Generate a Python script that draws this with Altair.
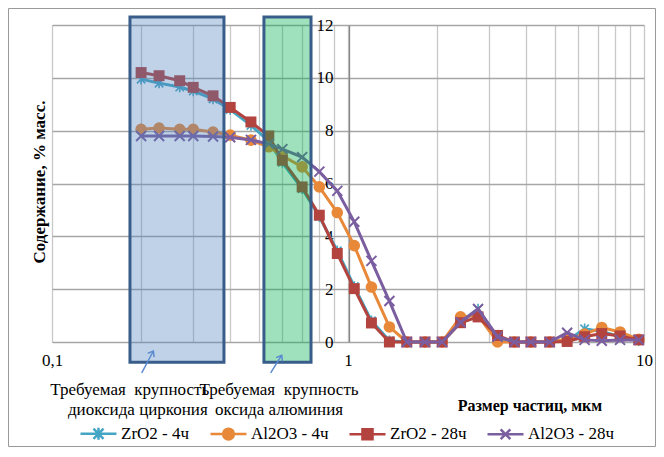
import altair as alt
import pandas as pd

FONT = "Liberation Serif"

# ---- data ----
sizes = [0.2, 0.23, 0.27, 0.3, 0.35, 0.4, 0.47, 0.54, 0.6, 0.7, 0.8, 0.92, 1.05, 1.2, 1.38,
         1.58, 1.82, 2.08, 2.4, 2.75, 3.2, 3.65, 4.15, 4.8, 5.5, 6.3, 7.2, 8.3, 9.6]
zro2_4h = [9.95, 9.8, 9.65, 9.5, 9.2, 8.8, 8.2, 7.6, 6.8, 5.8, 4.75, 3.45, 2.1, 0.8, 0.05,
           0, 0, 0, 0.75, 1.25, 0.15, 0, 0, 0, 0.05, 0.5, 0.4, 0.2, 0.05]
al2o3_4h = [8.05, 8.1, 8.05, 8.05, 7.95, 7.83, 7.64, 7.39, 7.05, 6.63, 5.87, 4.9, 3.65, 2.08, 0.57,
            0, 0, 0, 0.95, 1.0, 0, 0, 0, 0, 0.1, 0.3, 0.55, 0.38, 0.1]
zro2_28h = [10.2, 10.08, 9.89, 9.64, 9.32, 8.88, 8.33, 7.8, 6.88, 5.87, 4.8, 3.35, 2.02, 0.72, 0,
            0, 0, 0, 0.73, 0.95, 0.25, 0, 0, 0, 0.02, 0.2, 0.32, 0.23, 0.08]
al2o3_28h = [7.8, 7.8, 7.8, 7.8, 7.78, 7.75, 7.65, 7.5, 7.3, 7.0, 6.45, 5.72, 4.55, 3.07, 1.55,
             0, 0, 0, 0.75, 1.25, 0.2, 0, 0, 0, 0.35, 0.08, 0.05, 0.08, 0.08]
series_names = ["ZrO2 - 4ч", "Al2O3 - 4ч", "ZrO2 - 28ч", "Al2O3 - 28ч"]

x_ticks = [0.1, 0.2, 0.3, 0.4, 0.5, 0.6, 0.7, 0.8, 0.9, 1, 2, 3, 4, 5, 6, 7, 8, 9, 10]
y_ticks = [0, 2, 4, 6, 8, 10, 12]

# highlighted ranges (x from, x to, y from, y to)
box_zr = [0.1834, 0.381, -0.77, 12.3]
box_al = [0.52, 0.75, -0.77, 12.3]
# annotation texts
NB = "\u00a0\u00a0"
ann_text = ["Требуемая" + NB + "крупность", "диоксида циркония", "Требуемая" + NB + "крупность", "оксида алюминия"]
ann_x = [0.183, 0.195, 0.585, 0.585]
ann_y = [-1.83, -2.59, -1.83, -2.59]
# arrows (tail x, tail y, tip x, tip y)
arrow_x = [0.201, 0.548]
arrow_y = [-1.17, -1.17]
arrow_x2 = [0.220, 0.597]
arrow_y2 = [-0.34, -0.50]

rows = []
for name, vals in zip(series_names, [zro2_4h, al2o3_4h, zro2_28h, al2o3_28h]):
    for s, v in zip(sizes, vals):
        rows.append({"size": s, "value": v, "series": name})
df = pd.DataFrame(rows)

colors = ["#45A5C4", "#E8893A", "#B3433E", "#7A5EA0"]

xs = alt.Scale(type="log", domain=[0.1, 10], nice=False)
ys = alt.Scale(domain=[0, 12], nice=False, zero=False)
x_axis = alt.Axis(values=x_ticks, title=None, grid=True, gridColor="#C8C8C8", gridWidth=1.3,
                  ticks=False, domain=False, labelPadding=10, labelFont=FONT, labelFontSize=17,
                  labelColor="black", labelOverlap=False, labelFlush=False,
                  labelExpr="datum.value == 0.1 ? '0,1' : ((datum.value == 1 || datum.value == 10) ? datum.label : '')")
y_axis = alt.Axis(values=y_ticks, title=None, grid=True, gridColor="#A6A6A6", gridWidth=1.3,
                  ticks=False, domain=True, domainColor="#868686", domainWidth=1.3, offset=-297,
                  labelPadding=16, labelFont=FONT, labelFontSize=17, labelColor="black")


def X(field):
    return alt.X(f"{field}:Q", scale=xs, axis=x_axis)


def Y(field):
    return alt.Y(f"{field}:Q", scale=ys, axis=y_axis)


marker_defs = [
    dict(shape="M-0.8,-0.8L0.8,0.8M0.8,-0.8L-0.8,0.8M0,-1L0,1", filled=False, size=110, strokeWidth=1.6),
    dict(shape="circle", filled=True, size=135),
    dict(shape="square", filled=True, size=120),
    dict(shape="M-1,-1L1,1M1,-1L-1,1", filled=False, size=100, strokeWidth=2),
]

layers = []
for name, col, md in zip(series_names, colors, marker_defs):
    base = alt.Chart(df).transform_filter(alt.datum.series == name)
    layers.append(base.mark_line(color=col, strokeWidth=3).encode(x=X("size"), y=Y("value")))
    layers.append(base.mark_point(color=col, opacity=1, **md).encode(x=X("size"), y=Y("value")))

# legend built from an invisible layer
legend_paths = [
    "M-1,0L1,0M-0.28,-0.28L0.28,0.28M0.28,-0.28L-0.28,0.28M0,-0.33L0,0.33",
    "M-1,0L1,0M-0.3,0A0.3,0.3,0,1,0,0.3,0A0.3,0.3,0,1,0,-0.3,0Z",
    "M-1,0L1,0M-0.28,-0.28L0.28,-0.28L0.28,0.28L-0.28,0.28Z",
    "M-1,0L1,0M-0.27,-0.27L0.27,0.27M0.27,-0.27L-0.27,0.27",
]
leg = alt.Legend(title=None, orient="none", legendX=27, legendY=389, direction="horizontal",
                 symbolSize=1296, symbolStrokeWidth=2.5, symbolOpacity=1, labelFont=FONT,
                 labelFontSize=17, labelColor="black", labelOffset=3, columnPadding=15)
layers.append(
    alt.Chart(df).mark_point(opacity=0).encode(
        x=X("size"), y=Y("value"),
        shape=alt.Shape("series:N", scale=alt.Scale(domain=series_names, range=legend_paths), legend=leg),
        fill=alt.Fill("series:N", scale=alt.Scale(domain=series_names, range=colors), legend=leg),
        stroke=alt.Stroke("series:N", scale=alt.Scale(domain=series_names, range=colors), legend=leg),
        opacity=alt.value(0),
    )
)

# highlighted boxes
for bx, fillc, op in [(box_zr, "#4F81BD", 0.36), (box_al, "#00B050", 0.38)]:
    bdf = pd.DataFrame({"x": [bx[0]], "x2": [bx[1]], "y": [bx[2]], "y2": [bx[3]]})
    layers.append(alt.Chart(bdf).mark_rect(fill=fillc, fillOpacity=op, stroke="#385D8A", strokeWidth=3).encode(
        x=X("x"), x2="x2", y=Y("y"), y2="y2"))

# arrows
adf = pd.DataFrame({"x": arrow_x, "y": arrow_y, "x2": arrow_x2, "y2": arrow_y2})
layers.append(alt.Chart(adf).mark_rule(color="#5A8AD0", strokeWidth=1.5).encode(
    x=X("x"), y=Y("y"), x2="x2", y2="y2"))
layers.append(alt.Chart(adf).mark_point(shape="M-0.6,0.8L0,0L0.6,0.8", filled=False, color="#5A8AD0",
                                        strokeWidth=1.5, size=150, angle=30, opacity=1).encode(
    x=X("x2"), y=Y("y2")))

# annotation texts
tdf = pd.DataFrame({"x": ann_x, "y": ann_y, "t": ann_text})
layers.append(alt.Chart(tdf).mark_text(font=FONT, fontSize=17, color="black", baseline="middle",
                                       align="center").encode(x=X("x"), y=Y("y"), text="t:N"))

# axis titles
layers.append(alt.Chart(pd.DataFrame({"t": ["Содержание, % масс."]})).mark_text(
    font=FONT, fontSize=17, fontWeight="bold", color="black", angle=270, baseline="middle",
    align="center").encode(x=alt.value(-12), y=alt.value(157), text="t:N"))
layers.append(alt.Chart(pd.DataFrame({"t": ["Размер частиц, мкм"]})).mark_text(
    font=FONT, fontSize=16, fontWeight="bold", color="black", baseline="middle",
    align="center").encode(x=alt.value(478), y=alt.value(381), text="t:N"))

# outer frame
layers.append(alt.Chart(pd.DataFrame({"a": [0]})).mark_rect(fill=None, stroke="#999999", strokeWidth=1).encode(
    x=alt.value(-43.5), x2=alt.value(603.5), y=alt.value(-16.5), y2=alt.value(421.5)))

chart = alt.layer(*layers).properties(
    width=592, height=317,
    autosize=alt.AutoSizeParams(type="none"),
    padding={"left": 44, "top": 17, "right": 12, "bottom": 105},
).configure_view(stroke="#868686", strokeWidth=1.3).configure(background="white")

chart.save("out.html", embed_options={"renderer": "svg", "actions": False})
